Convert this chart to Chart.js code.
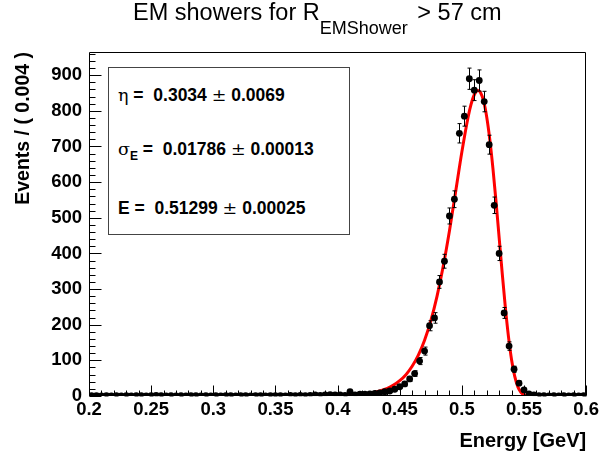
<!DOCTYPE html>
<html><head><meta charset="utf-8">
<script src="https://cdn.jsdelivr.net/npm/chart.js@4.4.0/dist/chart.umd.min.js"></script>
<style>
html,body{margin:0;padding:0;background:#fff;overflow:hidden;}
#wrap{position:relative;width:602px;height:461px;}
#c{position:absolute;left:0;top:0;}
#title{position:absolute;left:133px;top:0px;font-family:"Liberation Sans",Arial,sans-serif;font-size:23.5px;line-height:24px;color:#000;white-space:nowrap;}
#title .sub{font-size:18px;position:relative;top:14px;}
#title .tail{margin-left:3px;}
#stats{position:absolute;left:108px;top:67px;width:242px;height:168px;border:1px solid #444;background:#fff;box-sizing:border-box;}
#stats .ln{position:absolute;left:9px;font-family:"Liberation Sans",Arial,sans-serif;font-weight:bold;font-size:17.5px;line-height:17px;white-space:pre;color:#000;}
#stats .sym{font-family:"DejaVu Serif","Liberation Serif",serif;font-weight:normal;}
#stats .sb{font-size:12px;position:relative;top:5px;}
</style></head>
<body>
<div id="wrap">
<canvas id="c" width="602" height="461"></canvas>
<div id="title">EM showers for R<span class="sub">EMShower</span><span class="tail"> &gt; 57 cm</span></div>
<div id="stats">
<div class="ln" style="top:19px"><span class="sym">η</span> =  0.3034 <span class="sym">±</span> 0.0069</div>
<div class="ln" style="top:73px"><span class="sym">σ</span><span class="sb">E</span> =  0.01786 <span class="sym">±</span> 0.00013</div>
<div class="ln" style="top:132px">E =  0.51299 <span class="sym">±</span> 0.00025</div>
</div>
</div>
<script>
// ---- data ----
const binCenters = [0.202,0.206,0.210,0.214,0.218,0.222,0.226,0.230,0.234,0.238,
  0.242,0.246,0.250,0.254,0.258,0.262,0.266,0.270,0.274,0.278,
  0.282,0.286,0.290,0.294,0.298,0.302,0.306,0.310,0.314,0.318,
  0.322,0.326,0.330,0.334,0.338,0.342,0.346,0.350,0.354,0.358,
  0.362,0.366,0.370,0.374,0.378,0.382,0.386,0.390,0.394,0.398,
  0.402,0.406,0.410,0.414,0.418,0.422,0.426,0.430,0.434,0.438,
  0.442,0.446,0.450,0.454,0.458,0.462,0.466,0.470,0.474,0.478,
  0.482,0.486,0.490,0.494,0.498,0.502,0.506,0.510,0.514,0.518,
  0.522,0.526,0.530,0.534,0.538,0.542,0.546,0.550,0.554,0.558,
  0.562,0.566,0.570,0.574,0.578,0.582,0.586,0.590,0.594,0.598];
const eventCounts = [1,1,0,1,0,1,0,1,0,1,
  1,0,1,2,1,0,1,0,1,0,
  1,1,0,1,0,1,0,1,1,0,
  1,1,0,1,1,0,1,1,1,0,
  2,1,2,1,2,3,2,3,4,3,
  3,2,12,3,5,5,6,7,9,12,
  14,19,26,34,48,63,98,126,197,219,
  320,378,505,552,737,785,890,858,885,826,
  705,535,400,233,140,75,36,17,6,3,
  1,1,0,1,0,1,0,1,0,1];
const fitEnergy = [0.20,0.30,0.34,0.36,0.38,0.39,0.40,0.41,0.42,0.43,0.44,0.445,0.45,0.455,0.46,0.465,0.47,0.475,0.48,0.485,0.49,0.495,0.50,0.505,0.5075,0.51,0.513,0.515,0.5175,0.52,0.5225,0.525,0.5275,0.53,0.5325,0.535,0.5375,0.54,0.5425,0.545,0.5475,0.55,0.5525,0.555,0.56,0.60];
const fitEvents = [0,0,0.02,0.08,0.3,0.6,1.3,2.6,5.3,10.8,21.6,30.5,42.9,59.9,83.3,114.6,156.4,210.7,279.5,363.9,463.1,572.9,684.2,781.8,819.2,845.1,857,851.2,826.9,782.7,719.3,638.7,545.1,444.3,343.0,248.3,166.5,101.8,55.6,26.4,10.5,3.3,0.8,0.1,0,0];
const xTickValues = [0.2,0.25,0.3,0.35,0.4,0.45,0.5,0.55,0.6];
const xTickLabels = ['0.2','0.25','0.3','0.35','0.4','0.45','0.5','0.55','0.6'];
const yTickValues = [0,100,200,300,400,500,600,700,800,900];
const yTickLabels = ['0','100','200','300','400','500','600','700','800','900'];
const xTitle = 'Energy [GeV]';
const yTitle = 'Events / ( 0.004 )';

const FONT = '"Liberation Sans", Arial, sans-serif';

const rootStyle = {
  id: 'rootStyle',
  afterDatasetDraw(chart, args) {
    if (args.index !== 1) return; // after fit curve, before data points
    const ctx = chart.ctx, xs = chart.scales.x, ys = chart.scales.y;
    ctx.save();
    ctx.strokeStyle = '#000';
    ctx.lineWidth = 1;
    ctx.beginPath();
    for (let i = 0; i < binCenters.length; i++) {
      const n = eventCounts[i];
      if (n <= 0) continue;
      const e = Math.sqrt(n);
      const px = Math.round(xs.getPixelForValue(binCenters[i])) + 0.5;
      const y1 = ys.getPixelForValue(n + e), y2 = ys.getPixelForValue(Math.max(0, n - e));
      ctx.moveTo(px, y1); ctx.lineTo(px, y2);
      ctx.moveTo(px - 2, y1); ctx.lineTo(px + 2, y1);
      ctx.moveTo(px - 2, y2); ctx.lineTo(px + 2, y2);
    }
    ctx.stroke();
    ctx.restore();
  },
  afterDatasetsDraw(chart) {
    const ctx = chart.ctx, xs = chart.scales.x, ys = chart.scales.y, a = chart.chartArea;
    const L = Math.round(a.left) + 0.5, R = Math.round(a.right) - 0.5;
    const T = Math.round(a.top) + 0.5, B = Math.round(a.bottom) - 0.5;
    ctx.save();
    ctx.strokeStyle = '#000';
    ctx.lineWidth = 1;
    ctx.beginPath();
    ctx.rect(L, T, R - L, B - T);
    for (let v = ys.min; v <= ys.max + 1e-9; v += 20) {
      const major = Math.abs(v % 100) < 1e-6;
      const py = Math.round(ys.getPixelForValue(v)) + 0.5;
      ctx.moveTo(L, py); ctx.lineTo(L + (major ? 12 : 6), py);
    }
    for (let k = 0; k <= 40; k++) {
      const v = xs.min + k * 0.01;
      const major = k % 5 === 0;
      const px = Math.round(xs.getPixelForValue(v)) + 0.5;
      ctx.moveTo(px, B); ctx.lineTo(px, B - (major ? 10 : 5));
    }
    ctx.stroke();
    ctx.restore();
  }
};

new Chart(document.getElementById('c'), {
  type: 'scatter',
  data: {
    datasets: [
      {
        label: 'data',
        data: binCenters.map((x, i) => ({ x: x, y: eventCounts[i] })),
        showLine: false,
        pointRadius: 3.4,
        pointBackgroundColor: '#000',
        pointBorderWidth: 0,
        order: 1
      },
      {
        label: 'fit',
        data: fitEnergy.map((x, i) => ({ x: x, y: fitEvents[i] })),
        showLine: true,
        borderColor: '#ff0000',
        borderWidth: 3,
        pointRadius: 0,
        cubicInterpolationMode: 'monotone',
        fill: false,
        order: 2
      }
    ]
  },
  options: {
    responsive: false,
    animation: false,
    devicePixelRatio: 1,
    layout: { padding: { top: 52, right: 14, left: 0, bottom: 0 } },
    plugins: { legend: { display: false }, tooltip: { enabled: false }, title: { display: false } },
    scales: {
      x: {
        type: 'linear', min: 0.2, max: 0.6,
        grid: { display: false, drawTicks: false },
        border: { display: false },
        afterBuildTicks(s) { s.ticks = xTickValues.map(v => ({ value: v })); },
        afterFit(s) { s.height = 65; },
        ticks: {
          autoSkip: false, maxRotation: 0, padding: 3, color: '#000',
          font: { family: FONT, weight: 'bold', size: 18.5 },
          callback(v) { const i = xTickValues.findIndex(t => Math.abs(t - v) < 1e-9); return i >= 0 ? xTickLabels[i] : ''; }
        },
        title: { display: true, text: xTitle, align: 'end', color: '#000', font: { family: FONT, weight: 'bold', size: 20 }, padding: { top: 0, bottom: 8 } }
      },
      y: {
        type: 'linear', min: 0, max: 965,
        grid: { display: false, drawTicks: false },
        border: { display: false },
        afterBuildTicks(s) { s.ticks = yTickValues.map(v => ({ value: v })); },
        afterFit(s) { s.width = 89; },
        ticks: {
          autoSkip: false, padding: 7, color: '#000',
          font: { family: FONT, weight: 'bold', size: 18.5 },
          callback(v) { const i = yTickValues.indexOf(v); return i >= 0 ? yTickLabels[i] : ''; }
        },
        title: { display: true, text: yTitle, align: 'end', color: '#000', font: { family: FONT, weight: 'bold', size: 19.5 }, padding: { top: 12, bottom: 0 } }
      }
    }
  },
  plugins: [rootStyle]
});
</script>
</body></html>
